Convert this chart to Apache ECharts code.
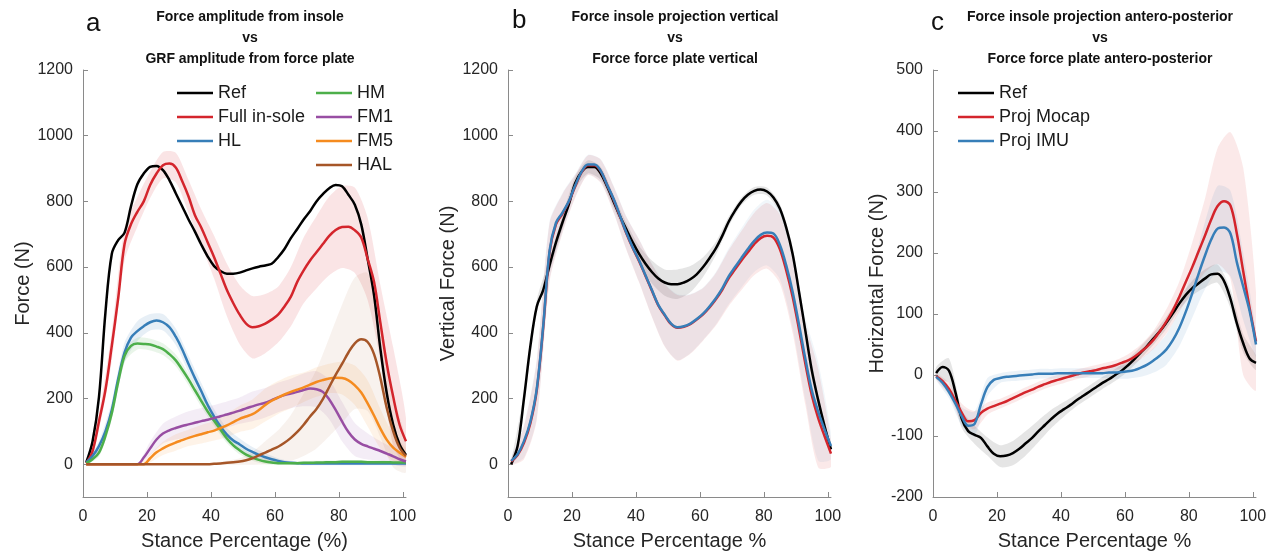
<!DOCTYPE html>
<html>
<head>
<meta charset="utf-8">
<script src="https://cdn.jsdelivr.net/npm/echarts@6/dist/echarts.min.js"></script>
<style>
html,body{margin:0;padding:0;background:#fff;}
#chart{width:1284px;height:557px;}
</style>
</head>
<body>
<div id="chart"></div>
<script>
// ---------- DATA ----------
const stance = [1,3,5,7,9,11,13,15,17,19,21,23,25,27,29,31,33,35,37,39,41,43,45,47,49,51,53,55,57,59,61,63,65,67,69,71,73,75,77,79,81,83,85,87,89,91,93,95,97,99,101];
const bandX = [1,5,9,13,17,21,25,29,33,37,41,45,49,53,57,61,65,69,73,77,81,85,89,93,97,101];
const xTicks = [0,20,40,60,80,100];
const yTicksAB = [0,200,400,600,800,1000,1200];
const yTicksC = [-200,-100,0,100,200,300,400,500];

// Panel a
const aRef = [5,70,205,460,640,682,705,785,852,885,905,908,895,865,825,785,745,708,668,632,603,588,580,580,583,590,596,601,605,610,630,655,688,716,745,770,800,822,840,850,846,820,790,730,625,515,350,215,120,60,28];
const aFull = [3,40,130,225,360,505,670,730,768,800,850,885,910,915,903,862,815,758,720,675,630,580,530,490,455,428,417,420,428,440,455,480,510,555,590,620,645,670,695,713,722,723,712,690,625,555,430,305,205,120,70];
const aHL = [5,25,55,100,165,260,340,385,405,420,432,437,432,417,388,350,305,262,222,180,145,115,90,72,60,47,37,28,21,15,10,6,4,3,2,2,2,2,2,2,2,2,2,2,2,2,2,2,2,2,2];
const aHM = [3,15,35,85,155,250,330,360,367,366,364,358,350,335,316,288,258,225,192,160,132,105,78,57,42,29,20,13,8,5,3,3,3,3,4,4,5,5,6,6,7,7,7,7,6,6,6,6,5,5,5];
const aFM1 = [0,0,0,0,0,0,0,0,0,20,48,75,93,103,110,116,121,126,131,135,140,146,151,157,163,170,176,182,187,195,203,210,215,220,226,230,228,220,197,165,130,98,75,62,54,47,40,32,24,15,8];
const aFM5 = [0,0,0,0,0,0,0,0,0,0,18,36,48,58,66,73,80,86,91,97,102,110,118,128,138,145,152,165,180,193,203,212,220,227,234,242,250,256,261,263,262,255,240,218,185,148,108,74,50,35,22];
const aHAL = [0,0,0,0,0,0,0,0,0,0,0,0,0,0,0,0,0,0,0,0,1,2,4,6,8,12,18,27,35,44,53,65,80,98,120,145,168,198,235,272,305,340,368,380,372,335,262,170,100,50,25];
const aFullSd = [5,25,45,50,45,40,40,45,50,55,65,80,90,95,90,85,90,100,110,120,125,130,125,115,150,70];
const aHLSd = [3,15,25,30,30,25,25,25,25,25,22,20,18,15,12,8,5,5,5,5,5,5,5,5,5,5];
const aHMSd = [3,12,20,20,18,18,18,18,18,18,16,14,12,10,8,5,5,5,5,5,5,5,5,5,5,5];
const aFM1Sd = [0,0,0,0,0,20,30,35,40,40,40,40,40,45,45,45,45,50,55,60,60,50,40,30,25,15];
const aFM5Sd = [0,0,0,0,0,12,20,25,25,28,30,35,40,45,50,50,50,45,45,45,50,60,70,60,40,25];
const aHALSd = [0,0,0,0,0,0,0,0,0,0,3,6,10,20,35,50,70,95,120,150,180,200,210,180,110,50];

// Panel b
const bRef = [0,55,200,360,480,530,605,675,735,790,855,890,905,905,885,845,800,755,715,675,640,610,585,565,553,548,548,553,563,578,600,627,657,695,738,772,800,820,832,836,830,812,778,720,640,525,405,285,195,115,45];
const bMocap = [8,28,65,125,225,415,645,730,762,798,845,888,910,910,892,850,806,755,703,658,618,573,528,483,453,426,415,418,426,440,456,477,502,531,566,593,620,645,670,688,695,690,655,590,510,410,305,210,140,85,32];
const bIMU = [10,30,70,130,230,420,650,735,765,800,848,890,912,912,893,850,808,757,705,660,620,575,530,485,455,428,417,420,428,442,458,480,505,535,572,600,628,655,680,698,705,702,668,605,525,425,320,225,160,105,55];
const bRefSd = [5,20,20,20,20,20,20,20,20,20,25,35,40,45,40,30,20,15,12,12,12,15,20,20,15,10];
const bProjSd = [10,50,90,90,60,35,30,35,40,50,65,80,95,100,90,80,80,85,90,95,100,105,110,125,150,40];

// Panel c
const cRef = [3,13,7,-28,-72,-92,-98,-103,-117,-129,-133,-132,-128,-121,-112,-103,-92,-82,-72,-63,-56,-49,-41,-34,-27,-20,-13,-7,0,7,16,26,37,48,60,72,86,101,117,131,142,150,158,165,166,154,125,85,52,27,20];
const cMocap = [-2,-10,-23,-42,-62,-76,-74,-62,-55,-51,-47,-43,-38,-33,-28,-24,-19,-15,-11,-8,-5,-2,1,4,6,8,11,13,16,20,24,30,38,47,58,72,88,106,128,152,176,202,228,255,277,285,278,232,170,110,55];
const cIMU = [-3,-13,-28,-47,-68,-83,-80,-48,-20,-8,-5,-3,-2,-1,0,1,2,2,2,3,3,3,3,3,3,3,3,4,4,5,6,8,12,17,24,32,42,57,77,103,133,165,195,222,240,242,232,185,145,105,50];
const cRefSd = [10,20,15,15,15,18,20,20,18,15,12,10,10,10,10,10,10,10,10,10,12,15,15,15,15,12];
const cMocapSd = [5,10,15,15,10,8,8,8,8,8,8,8,8,8,8,10,12,15,20,25,40,60,95,120,170,80];
const cIMUSd = [5,10,15,20,15,8,8,8,8,8,8,8,8,8,10,12,15,20,25,30,40,55,70,70,55,20];

// ---------- CHART ----------
const FONT = '"Liberation Sans", Arial, sans-serif';
const C = {black:'#000000', red:'#d4252c', blue:'#377eb8', green:'#4daf4a', purple:'#984ea3', orange:'#f58b1f', brown:'#a65628'};

function line(name, vals, color, gi) {
  return {
    type:'line', name, xAxisIndex:gi, yAxisIndex:gi,
    data: stance.map((x,i)=>[x, vals[i]]),
    symbol:'none', showSymbol:false, smooth:0.35, z:5,
    lineStyle:{color, width:2.5}, itemStyle:{color}
  };
}
function band(id, vals, sd, color, op, gi) {
  const mean = bandX.map(x => vals[stance.indexOf(x)]);
  const upper = bandX.map((x,k)=>[x, mean[k]+sd[k]]);
  const lower = bandX.map((x,k)=>[x, mean[k]-sd[k]]).reverse();
  return {
    type:'custom', name:id, xAxisIndex:gi, yAxisIndex:gi, silent:true, z:1,
    data:[[50, 0]],
    renderItem:(params, api) => {
      const cs = params.coordSys;
      const pts = upper.concat(lower).map(p => api.coord(p));
      return {
        type:'group',
        clipPath:{type:'rect', shape:{x:cs.x, y:cs.y, width:cs.width, height:cs.height}},
        children:[{type:'polygon', shape:{points:pts, smooth:0.25},
          style:{fill:color, opacity:op, stroke:null}}]
      };
    }
  };
}

const gridsPos = [
  {left:83, right:878, top:70, bottom:60},
  {left:508, right:453, top:70, bottom:60},
  {left:933, right:28, top:70, bottom:60}
];
const yNames = ['Force (N)', 'Vertical Force (N)', 'Horizontal Force (N)'];
const yNameGaps = [50, 46, 45];
const xNames = ['Stance Percentage (%)', 'Stance Percentage %', 'Stance Percentage %'];

const axisLineStyle = {onZero:false, lineStyle:{color:'#8a8a8a', width:1}};
const xAxes = gridsPos.map((g,i)=>({
  type:'value', gridIndex:i, min:0, max:101, position:'bottom',
  name:xNames[i], nameLocation:'middle', nameGap:34,
  nameTextStyle:{fontFamily:FONT, fontSize:20, color:'#262626'},
  axisLine:Object.assign({show:true}, axisLineStyle),
  axisTick:{show:true, inside:true, length:5, customValues:xTicks, lineStyle:{color:'#8a8a8a'}},
  axisLabel:{customValues:xTicks, formatter:v=>String(v), fontFamily:FONT, fontSize:16, color:'#262626', margin:12},
  splitLine:{show:false}
}));
const yAxes = gridsPos.map((g,i)=>{
  const ticks = i===2 ? yTicksC : yTicksAB;
  return {
    type:'value', gridIndex:i, position:'left',
    min: i===2 ? -200 : -100, max: i===2 ? 500 : 1200,
    name:yNames[i], nameLocation:'middle', nameGap:yNameGaps[i],
    nameTextStyle:{fontFamily:FONT, fontSize:20, color:'#262626'},
    axisLine:Object.assign({show:true}, axisLineStyle),
    axisTick:{show:true, inside:true, length:5, customValues:ticks, lineStyle:{color:'#8a8a8a'}},
    axisLabel:{customValues:ticks, formatter:v=>String(v), fontFamily:FONT, fontSize:16, color:'#262626', margin:10},
    splitLine:{show:false}
  };
});

const series = [
  band('aFullB', aFull, aFullSd, C.red, 0.12, 0),
  band('aHLB', aHL, aHLSd, C.blue, 0.12, 0),
  band('aHMB', aHM, aHMSd, C.green, 0.12, 0),
  band('aFM1B', aFM1, aFM1Sd, C.purple, 0.1, 0),
  band('aFM5B', aFM5, aFM5Sd, C.orange, 0.1, 0),
  band('aHALB', aHAL, aHALSd, C.brown, 0.08, 0),
  line('Ref', aRef, C.black, 0), line('Full in-sole', aFull, C.red, 0), line('HL', aHL, C.blue, 0),
  line('HM', aHM, C.green, 0), line('FM1', aFM1, C.purple, 0), line('FM5', aFM5, C.orange, 0),
  line('HAL', aHAL, C.brown, 0),
  band('bRefB', bRef, bRefSd, C.black, 0.1, 1),
  band('bMocapB', bMocap, bProjSd, C.red, 0.1, 1),
  band('bIMUB', bIMU, bProjSd, C.blue, 0.07, 1),
  line('b Ref', bRef, C.black, 1), line('b Mocap', bMocap, C.red, 1), line('b IMU', bIMU, C.blue, 1),
  band('cRefB', cRef, cRefSd, C.black, 0.1, 2),
  band('cMocapB', cMocap, cMocapSd, C.red, 0.1, 2),
  band('cIMUB', cIMU, cIMUSd, C.blue, 0.1, 2),
  line('Ref ', cRef, C.black, 2), line('Proj Mocap', cMocap, C.red, 2), line('Proj IMU', cIMU, C.blue, 2)
];

const legendBase = {orient:'vertical', icon:'rect', itemWidth:36, itemHeight:2.5, itemGap:4, selectedMode:false,
  textStyle:{fontFamily:FONT, fontSize:18, color:'#1a1a1a', lineHeight:20}};

const titleStyle = {fontFamily:FONT, fontSize:14, fontWeight:'bold', color:'#111', lineHeight:21};
const letterStyle = {fontFamily:FONT, fontSize:26, fontWeight:'normal', color:'#111'};

const chart = echarts.init(document.getElementById('chart'), null, {renderer:'canvas'});
chart.setOption({
  animation:false,
  backgroundColor:'#ffffff',
  title:[
    {text:'Force amplitude from insole\nvs\nGRF amplitude from force plate', left:245, top:2, textAlign:'center', textStyle:titleStyle},
    {text:'Force insole projection vertical\nvs\nForce force plate vertical', left:670, top:2, textAlign:'center', textStyle:titleStyle},
    {text:'Force insole projection antero-posterior\nvs\nForce force plate antero-posterior', left:1095, top:2, textAlign:'center', textStyle:titleStyle},
    {text:'a', left:81, top:6, textStyle:letterStyle},
    {text:'b', left:507, top:3, textStyle:letterStyle},
    {text:'c', left:926, top:5, textStyle:letterStyle}
  ],
  legend:[
    Object.assign({}, legendBase, {left:172, top:78, data:['Ref','Full in-sole','HL']}),
    Object.assign({}, legendBase, {left:311, top:78, data:['HM','FM1','FM5','HAL']}),
    Object.assign({}, legendBase, {left:953, top:78, data:['Ref ','Proj Mocap','Proj IMU']})
  ],
  grid:gridsPos,
  xAxis:xAxes,
  yAxis:yAxes,
  series:series
});
</script>
</body>
</html>
